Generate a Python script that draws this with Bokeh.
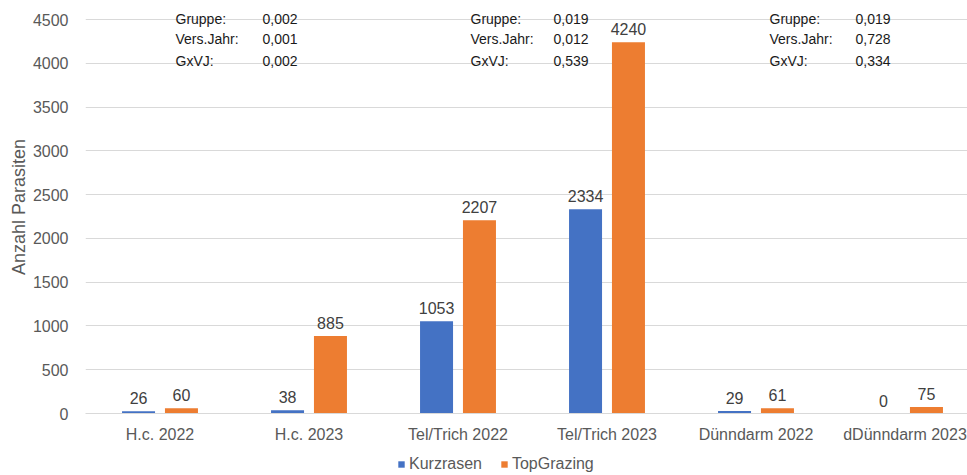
from bokeh.plotting import figure
from bokeh.layouts import column
from bokeh.models import (ColumnDataSource, Range1d, FixedTicker, Label, Legend, LegendItem)
from bokeh.embed import file_html
from bokeh.resources import INLINE

categories = ["H.c. 2022", "H.c. 2023", "Tel/Trich 2022", "Tel/Trich 2023",
              "Dünndarm 2022", "dDünndarm 2023"]
kurzrasen = [26, 38, 1053, 2334, 29, 0]
topgrazing = [60, 885, 2207, 4240, 61, 75]
y_ticks = [0, 500, 1000, 1500, 2000, 2500, 3000, 3500, 4000, 4500]
series_names = ["Kurzrasen", "TopGrazing"]

stat_labels = ["Gruppe:", "Vers.Jahr:", "GxVJ:"]
stats = [["0,002", "0,001", "0,002"],
         ["0,019", "0,012", "0,539"],
         ["0,019", "0,728", "0,334"]]

FONT = "Liberation Sans"
BLUE = "#4472C4"
ORANGE = "#ED7D31"
GRID = "#D9D9D9"
TICK = "#595959"

PX_PER_UNIT = 394 / 4500.0  # frame pixels per data unit (y)

idx = list(range(len(categories)))
off = 0.144
bw = 0.2215

src_k = ColumnDataSource(dict(x=[i - off for i in idx], top=kurzrasen,
                              lbl=[str(v) for v in kurzrasen]))
src_t = ColumnDataSource(dict(x=[i + off for i in idx], top=topgrazing,
                              lbl=[str(v) for v in topgrazing]))

p = figure(width=967, height=447, output_backend="svg", toolbar_location=None,
           x_range=Range1d(-0.5, -0.5 + 882 / 149.0),
           y_range=Range1d(0, 4500 + 19 / PX_PER_UNIT),
           min_border_left=85, min_border_right=0, min_border_top=0,
           min_border_bottom=34)
p.outline_line_color = None
p.background_fill_color = "white"
p.border_fill_color = "white"

p.vbar(x="x", top="top", width=bw, source=src_k, fill_color=BLUE, line_color=None)
p.vbar(x="x", top="top", width=bw, source=src_t, fill_color=ORANGE, line_color=None)

for src in (src_k, src_t):
    p.text(x="x", y="top", text="lbl", source=src, text_align="center",
           text_baseline="alphabetic", y_offset=-13, text_font_size="16px",
           text_color="#404040", text_font={"value": FONT})

# axes
p.xgrid.grid_line_color = None
p.ygrid.grid_line_color = GRID
p.ygrid.grid_line_width = 1
p.yaxis.ticker = FixedTicker(ticks=y_ticks)
p.yaxis.major_label_overrides = {t: str(t) for t in y_ticks}
p.yaxis.axis_line_color = None
p.yaxis.major_tick_line_color = None
p.yaxis.minor_tick_line_color = None
p.yaxis.major_label_text_font = FONT
p.yaxis.major_label_text_font_size = "16px"
p.yaxis.major_label_text_color = TICK
p.yaxis.major_label_standoff = 11
p.yaxis.axis_label = "Anzahl Parasiten"
p.yaxis.axis_label_text_font = FONT
p.yaxis.axis_label_text_font_size = "18px"
p.yaxis.axis_label_text_font_style = "normal"
p.yaxis.axis_label_text_color = TICK
p.yaxis.axis_label_standoff = 1

p.xaxis.ticker = FixedTicker(ticks=idx)
p.xaxis.major_label_overrides = {i: c for i, c in zip(idx, categories)}
p.xaxis.axis_line_color = GRID
p.xaxis.major_tick_line_color = None
p.xaxis.minor_tick_line_color = None
p.xaxis.major_label_text_font = FONT
p.xaxis.major_label_text_font_size = "16px"
p.xaxis.major_label_text_color = TICK
p.xaxis.major_label_standoff = 6

# statistics text blocks (screen units relative to the plot frame)
block_x = [(90, 177), (385, 468), (684, 770)]
row_y = [395, 375, 353]
for (lx, vx), vals in zip(block_x, stats):
    for lab, val, yy in zip(stat_labels, vals, row_y):
        p.add_layout(Label(x=lx, y=yy, x_units="screen", y_units="screen", text=lab,
                           text_baseline="middle", text_font=FONT,
                           text_font_size="14px", text_color="#1A1A1A"))
        p.add_layout(Label(x=vx, y=yy, x_units="screen", y_units="screen", text=val,
                           text_baseline="middle", text_font=FONT,
                           text_font_size="14px", text_color="#1A1A1A"))

# legend strip below the chart (proxy renderers kept outside the visible range)
lf = figure(width=967, height=28, output_backend="svg", toolbar_location=None,
            x_axis_type=None, y_axis_type=None, x_range=Range1d(0, 1), y_range=Range1d(0, 1),
            min_border_left=0, min_border_right=0, min_border_top=0, min_border_bottom=0)
lf.outline_line_color = None
lf.grid.grid_line_color = None
lk = lf.vbar(x=[-5], top=[0], width=0.1, fill_color=BLUE, line_color=None)
lt = lf.vbar(x=[-5], top=[0], width=0.1, fill_color=ORANGE, line_color=None)
legend = Legend(items=[LegendItem(label=series_names[0], renderers=[lk]),
                       LegendItem(label=series_names[1], renderers=[lt])],
                orientation="horizontal", location=(312, 2),
                glyph_width=8, glyph_height=8, label_standoff=4, spacing=18,
                padding=0, margin=0,
                label_text_font=FONT, label_text_font_size="16px",
                label_text_color=TICK, border_line_color=None,
                background_fill_alpha=0)
lf.add_layout(legend, "center")

layout = column(p, lf, spacing=0)
open("out.html", "w").write(file_html(layout, INLINE))
